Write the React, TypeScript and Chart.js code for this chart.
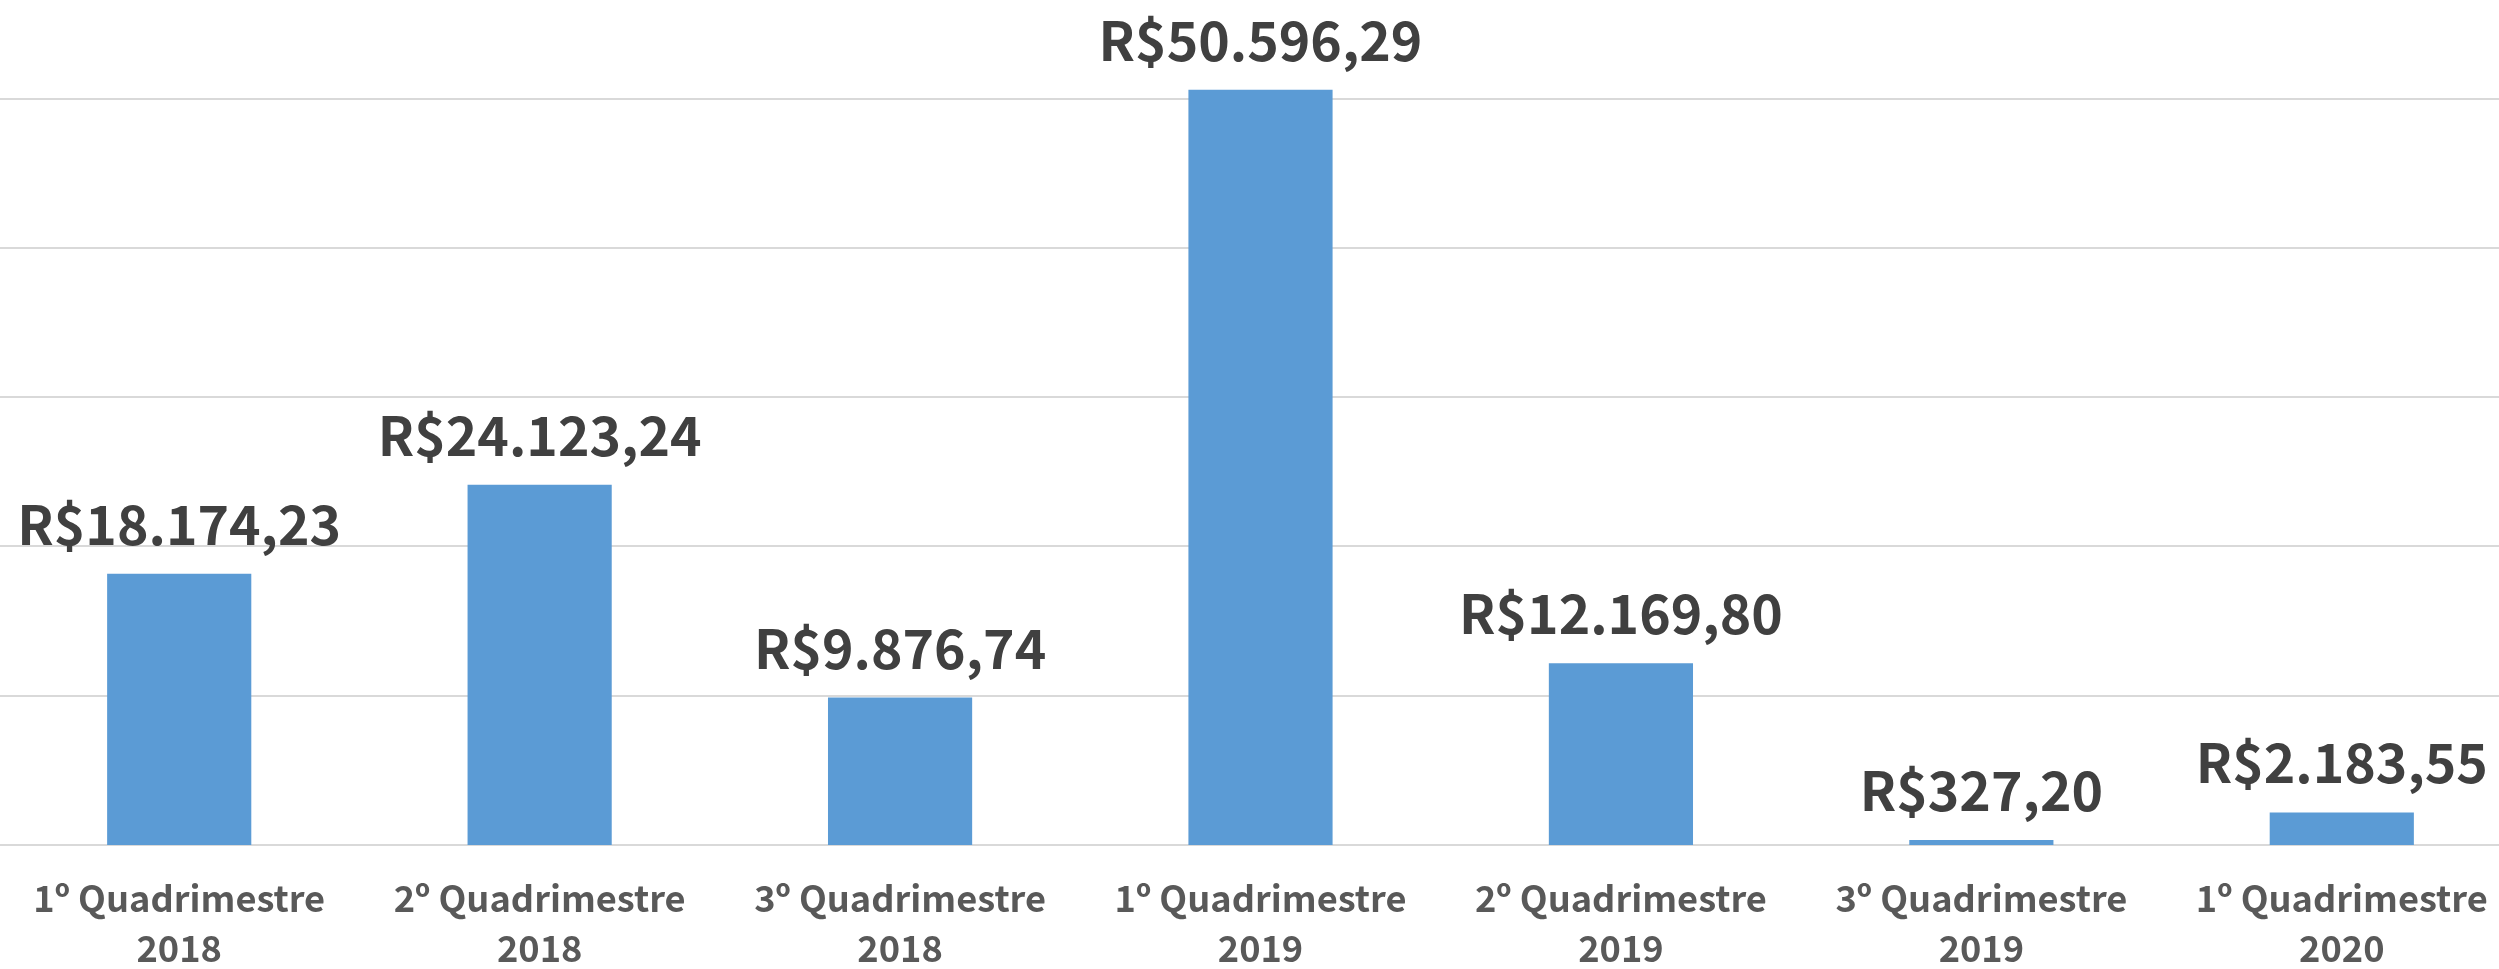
import React, { useEffect, useRef } from "react";
import { Chart, registerables } from "chart.js";

Chart.register(...registerables);

const categories: string[][] = [
  ["1º Quadrimestre", "2018"],
  ["2º Quadrimestre", "2018"],
  ["3º Quadrimestre", "2018"],
  ["1º Quadrimestre", "2019"],
  ["2º Quadrimestre", "2019"],
  ["3º Quadrimestre", "2019"],
  ["1º Quadrimestre", "2020"],
];
const values: number[] = [18174.23, 24123.24, 9876.74, 50596.29, 12169.8, 327.2, 2183.55];
const gridValues: number[] = [0, 10000, 20000, 30000, 40000, 50000];
const yMax = 56600;

const BAR_COLOR = "#5b9bd5";
const GRID_COLOR = "#d9d9d9";
const LABEL_COLOR = "#404040";
const TICK_COLOR = "#595959";
const FONT = '"Noto Sans CJK SC", "Noto Sans", sans-serif';

function formatBRL(v: number): string {
  const fixed = v.toFixed(2);
  const [intPart, dec] = fixed.split(".");
  const withDots = intPart.replace(/\B(?=(\d{3})+(?!\d))/g, ".");
  return "R$" + withDots + "," + dec;
}

function fitSize(text: string, targetWidth: number): number {
  const c = document.createElement("canvas").getContext("2d");
  if (!c) return 40;
  c.font = `bold 100px ${FONT}`;
  const w = c.measureText(text).width;
  return (100 * targetWidth) / w;
}

export default function App() {
  const ref = useRef<HTMLCanvasElement | null>(null);

  useEffect(() => {
    document.body.style.margin = "0";
    document.body.style.overflow = "hidden";
    const canvas = ref.current;
    if (!canvas) return;

    const valueSize = fitSize("R$50.596,29", 324);
    const tickSize = fitSize("1º Quadrimestre", 292);

    // horizontal grid lines at the value-axis positions of gridValues
    const gridLines = {
      id: "gridLines",
      beforeDatasetsDraw(chart: any) {
        const ctx = chart.ctx;
        const yScale = chart.scales.y;
        const area = chart.chartArea;
        ctx.save();
        ctx.strokeStyle = GRID_COLOR;
        ctx.lineWidth = 2;
        gridValues.forEach((v) => {
          const y = Math.round(yScale.getPixelForValue(v));
          ctx.beginPath();
          ctx.moveTo(area.left, y);
          ctx.lineTo(area.right, y);
          ctx.stroke();
        });
        ctx.restore();
      },
    };

    const valueLabels = {
      id: "valueLabels",
      afterDatasetsDraw(chart: any) {
        const ctx = chart.ctx;
        const meta = chart.getDatasetMeta(0);
        ctx.save();
        ctx.font = `bold ${valueSize}px ${FONT}`;
        ctx.fillStyle = LABEL_COLOR;
        ctx.textAlign = "center";
        ctx.textBaseline = "alphabetic";
        meta.data.forEach((bar: any, i: number) => {
          ctx.fillText(formatBRL(values[i]), bar.x, bar.y - 29);
        });
        ctx.restore();
      },
    };

    const chart = new Chart(canvas, {
      type: "bar",
      data: {
        labels: categories,
        datasets: [
          {
            data: values,
            backgroundColor: BAR_COLOR,
            borderWidth: 0,
            barPercentage: 0.4,
            categoryPercentage: 1,
          },
        ],
      },
      options: {
        responsive: false,
        animation: false,
        layout: { padding: 0 },
        plugins: {
          legend: { display: false },
          tooltip: { enabled: false },
        },
        scales: {
          x: {
            grid: { display: false, drawTicks: false },
            border: { display: false },
            ticks: {
              color: TICK_COLOR,
              font: { family: FONT, size: tickSize, weight: "bold", lineHeight: 50 / tickSize },
              padding: 28,
              maxRotation: 0,
              autoSkip: false,
            },
            afterFit: (axis: any) => {
              axis.height = 124;
            },
          },
          y: {
            min: 0,
            max: yMax,
            ticks: { display: false },
            border: { display: false },
            grid: { display: false, drawTicks: false },
            afterFit: (axis: any) => {
              axis.width = 0;
            },
          },
        },
      },
      plugins: [gridLines, valueLabels],
    });
    return () => chart.destroy();
  }, []);

  return (
    <div style={{ position: "fixed", left: -1, top: 0, width: 2523, height: 969, background: "#fff" }}>
      <canvas ref={ref} width={2523} height={969} style={{ width: 2523, height: 969, display: "block" }} />
    </div>
  );
}
